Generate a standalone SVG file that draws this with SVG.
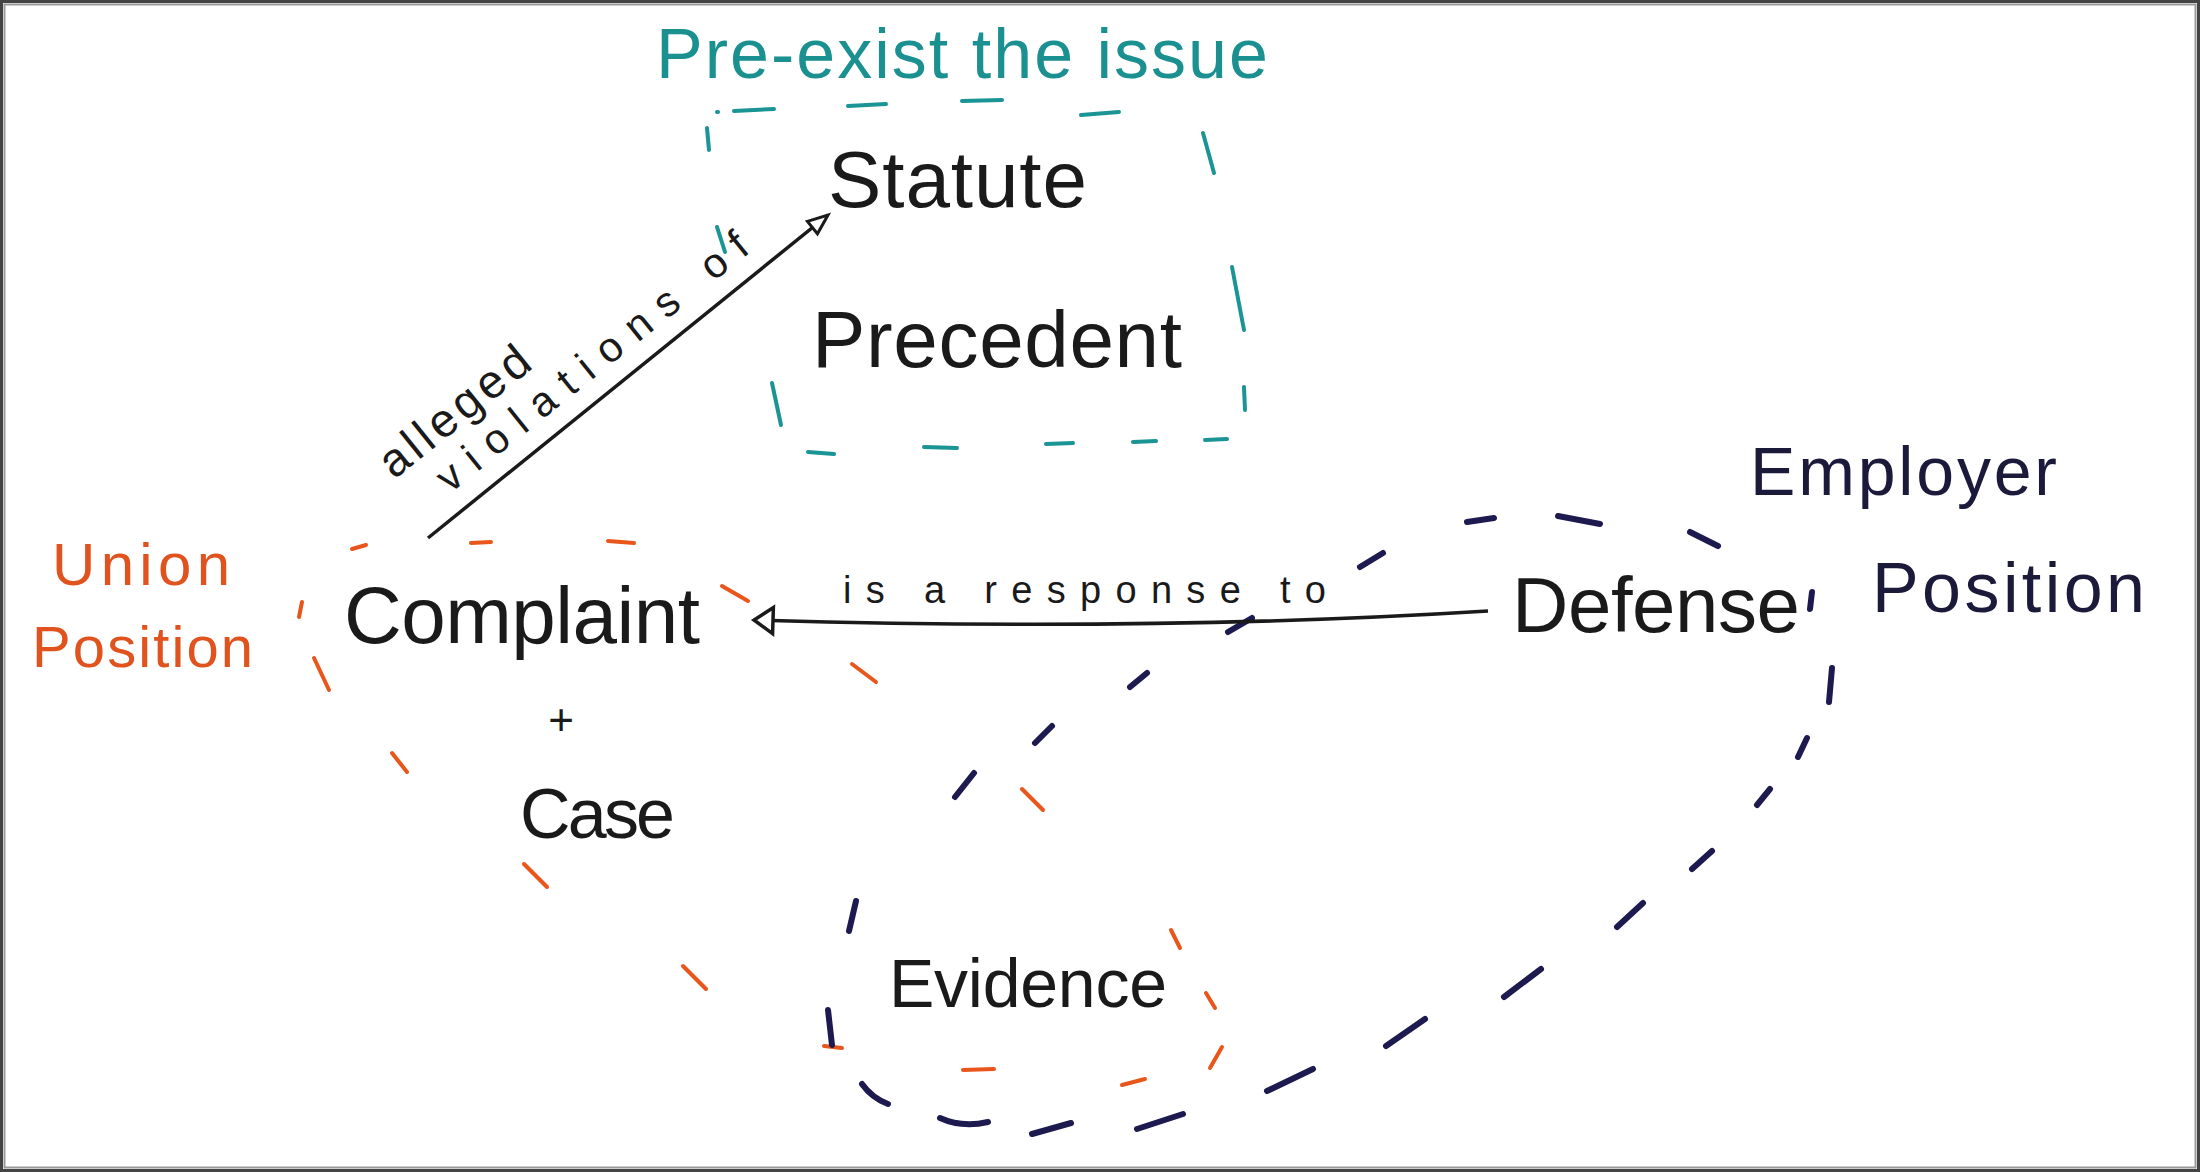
<svg xmlns="http://www.w3.org/2000/svg" width="2200" height="1172" viewBox="0 0 2200 1172">
  <style>
    text { font-family: "Liberation Sans", Arial, sans-serif; }
    .ink { fill: #1a1a1a; }
    .navytxt { fill: #1b1a3a; }
    .orangetxt { fill: #e0531f; }
    .tealtxt { fill: #1a9090; }
    .teal line, .teal path { stroke: #1a9494; stroke-width: 4; stroke-linecap: round; fill: none; }
    .orange line, .orange path { stroke: #e8561c; stroke-width: 4; stroke-linecap: round; fill: none; }
    .navy line, .navy path { stroke: #1c1a4e; stroke-width: 6; stroke-linecap: round; fill: none; }
    .conn { stroke: #1a1a1a; stroke-width: 3.5; fill: none; }
  </style>
  <defs>
    <marker id="openArrow" markerUnits="userSpaceOnUse" markerWidth="30" markerHeight="30" refX="22" refY="10" orient="auto">
      <path d="M2,2 L22,10 L2,18 z" fill="#ffffff" stroke="#1a1a1a" stroke-width="3" stroke-linejoin="miter"/>
    </marker>
    <marker id="openArrowLarge" markerUnits="userSpaceOnUse" markerWidth="30" markerHeight="36" refX="22" refY="16" orient="auto">
      <path d="M3,3 L22,16 L3,29 z" fill="#ffffff" stroke="#1a1a1a" stroke-width="3.5" stroke-linejoin="miter"/>
    </marker>
  </defs>

  <rect x="0" y="0" width="2200" height="1172" fill="#ffffff"/>
  <rect x="1.5" y="1.5" width="2197" height="1169" fill="none" stroke="#444444" stroke-width="3"/>
  <rect x="4.5" y="4.5" width="2191" height="1163" fill="none" stroke="#9a9a9a" stroke-width="2"/>

  <!-- Teal group boundary: Pre-exist the issue -->
  <g id="preexist-group" class="teal">
    <line x1="717" y1="112" x2="718" y2="112"/>
    <line x1="734" y1="111" x2="774" y2="109"/>
    <line x1="848" y1="106" x2="886" y2="104"/>
    <line x1="962" y1="101" x2="1002" y2="100"/>
    <line x1="1081" y1="115" x2="1119" y2="112"/>
    <line x1="707" y1="128" x2="709" y2="150"/>
    <line x1="1203" y1="133" x2="1214" y2="173"/>
    <line x1="1232" y1="267" x2="1244" y2="330"/>
    <line x1="1244" y1="387" x2="1245" y2="410"/>
    <line x1="772" y1="383" x2="781" y2="425"/>
    <line x1="717" y1="227" x2="725" y2="252"/>
    <line x1="808" y1="452" x2="834" y2="454"/>
    <line x1="924" y1="447" x2="957" y2="448"/>
    <line x1="1046" y1="444" x2="1073" y2="443"/>
    <line x1="1133" y1="442" x2="1156" y2="441"/>
    <line x1="1205" y1="440" x2="1227" y2="439"/>
    <text class="tealtxt" x="656" y="78" font-size="70" textLength="612" lengthAdjust="spacing" stroke="none">Pre-exist the issue</text>
  </g>

  <!-- Orange group boundary: Union Position -->
  <g id="union-group" class="orange">
    <line x1="352" y1="549" x2="366" y2="545"/>
    <line x1="471" y1="543" x2="491" y2="542"/>
    <line x1="608" y1="541" x2="634" y2="543"/>
    <line x1="722" y1="586" x2="748" y2="601"/>
    <line x1="302" y1="602" x2="299" y2="617"/>
    <line x1="314" y1="658" x2="329" y2="690"/>
    <line x1="852" y1="664" x2="876" y2="682"/>
    <line x1="392" y1="753" x2="407" y2="772"/>
    <line x1="524" y1="864" x2="547" y2="887"/>
    <line x1="1022" y1="789" x2="1043" y2="810"/>
    <line x1="683" y1="966" x2="706" y2="989"/>
    <line x1="824" y1="1046" x2="842" y2="1048"/>
    <line x1="963" y1="1070" x2="994" y2="1069"/>
    <line x1="1122" y1="1085" x2="1145" y2="1079"/>
    <line x1="1210" y1="1068" x2="1222" y2="1047"/>
    <line x1="1206" y1="993" x2="1215" y2="1008"/>
    <line x1="1171" y1="930" x2="1180" y2="948"/>
    <text class="orangetxt" x="52" y="585" font-size="60" textLength="178" lengthAdjust="spacing" stroke="none">Union</text>
    <text class="orangetxt" x="32" y="667" font-size="58" textLength="221" lengthAdjust="spacing" stroke="none">Position</text>
  </g>

  <!-- Navy group boundary: Employer Position -->
  <g id="employer-group" class="navy">
    <line x1="1360" y1="567" x2="1383" y2="553"/>
    <line x1="1467" y1="522" x2="1494" y2="518"/>
    <line x1="1558" y1="516" x2="1600" y2="524"/>
    <line x1="1690" y1="532" x2="1718" y2="546"/>
    <line x1="1812" y1="592" x2="1810" y2="609"/>
    <line x1="1832" y1="668" x2="1829" y2="702"/>
    <line x1="1807" y1="738" x2="1798" y2="757"/>
    <line x1="1770" y1="789" x2="1757" y2="805"/>
    <line x1="1712" y1="851" x2="1692" y2="869"/>
    <line x1="1643" y1="903" x2="1617" y2="927"/>
    <line x1="1541" y1="969" x2="1504" y2="997"/>
    <line x1="1425" y1="1019" x2="1386" y2="1046"/>
    <line x1="1313" y1="1069" x2="1267" y2="1091"/>
    <line x1="1183" y1="1114" x2="1137" y2="1129"/>
    <line x1="1071" y1="1123" x2="1032" y2="1134"/>
    <path d="M940,1118 Q962,1128 988,1122"/>
    <path d="M862,1084 Q872,1098 888,1104"/>
    <line x1="828" y1="1010" x2="832" y2="1045"/>
    <line x1="856" y1="901" x2="849" y2="931"/>
    <line x1="974" y1="773" x2="955" y2="797"/>
    <line x1="1052" y1="726" x2="1035" y2="743"/>
    <line x1="1147" y1="673" x2="1130" y2="687"/>
    <line x1="1252" y1="618" x2="1228" y2="632"/>
    <text class="navytxt" x="1750" y="495" font-size="68" textLength="307" lengthAdjust="spacing" stroke="none">Employer</text>
    <text class="navytxt" x="1872" y="612" font-size="70" textLength="273" lengthAdjust="spacing" stroke="none">Position</text>
  </g>

  <!-- Nodes -->
  <g id="statute">
    <text class="ink" x="828" y="207" font-size="80" textLength="259" lengthAdjust="spacing">Statute</text>
  </g>
  <g id="precedent">
    <text class="ink" x="812" y="367" font-size="80" textLength="370" lengthAdjust="spacing">Precedent</text>
  </g>
  <g id="complaint">
    <text class="ink" x="344" y="643" font-size="80" textLength="356" lengthAdjust="spacing">Complaint</text>
  </g>
  <g id="plus">
    <text class="ink" x="561" y="735" font-size="44" text-anchor="middle">+</text>
  </g>
  <g id="case">
    <text class="ink" x="520" y="838" font-size="70" textLength="155" lengthAdjust="spacing">Case</text>
  </g>
  <g id="defense">
    <text class="ink" x="1512" y="632" font-size="78" textLength="288" lengthAdjust="spacing">Defense</text>
  </g>
  <g id="evidence">
    <text class="ink" x="889" y="1007" font-size="68" textLength="278" lengthAdjust="spacing">Evidence</text>
  </g>

  <!-- Connectors -->
  <g id="connectors">
    <line class="conn" x1="428" y1="538" x2="828" y2="215" marker-end="url(#openArrow)"/>
    <text class="ink" transform="translate(394,480) rotate(-38.8)" font-size="47" textLength="180" lengthAdjust="spacing">alleged</text>
    <text class="ink" transform="translate(450,494) rotate(-38.8)" font-size="42" textLength="387" lengthAdjust="spacing">violations of</text>
    <path class="conn" d="M1488,611 Q1150,632 754,620" marker-end="url(#openArrowLarge)"/>
    <text class="ink" x="843" y="603" font-size="38" textLength="483" lengthAdjust="spacing">is a response to</text>
  </g>
</svg>
